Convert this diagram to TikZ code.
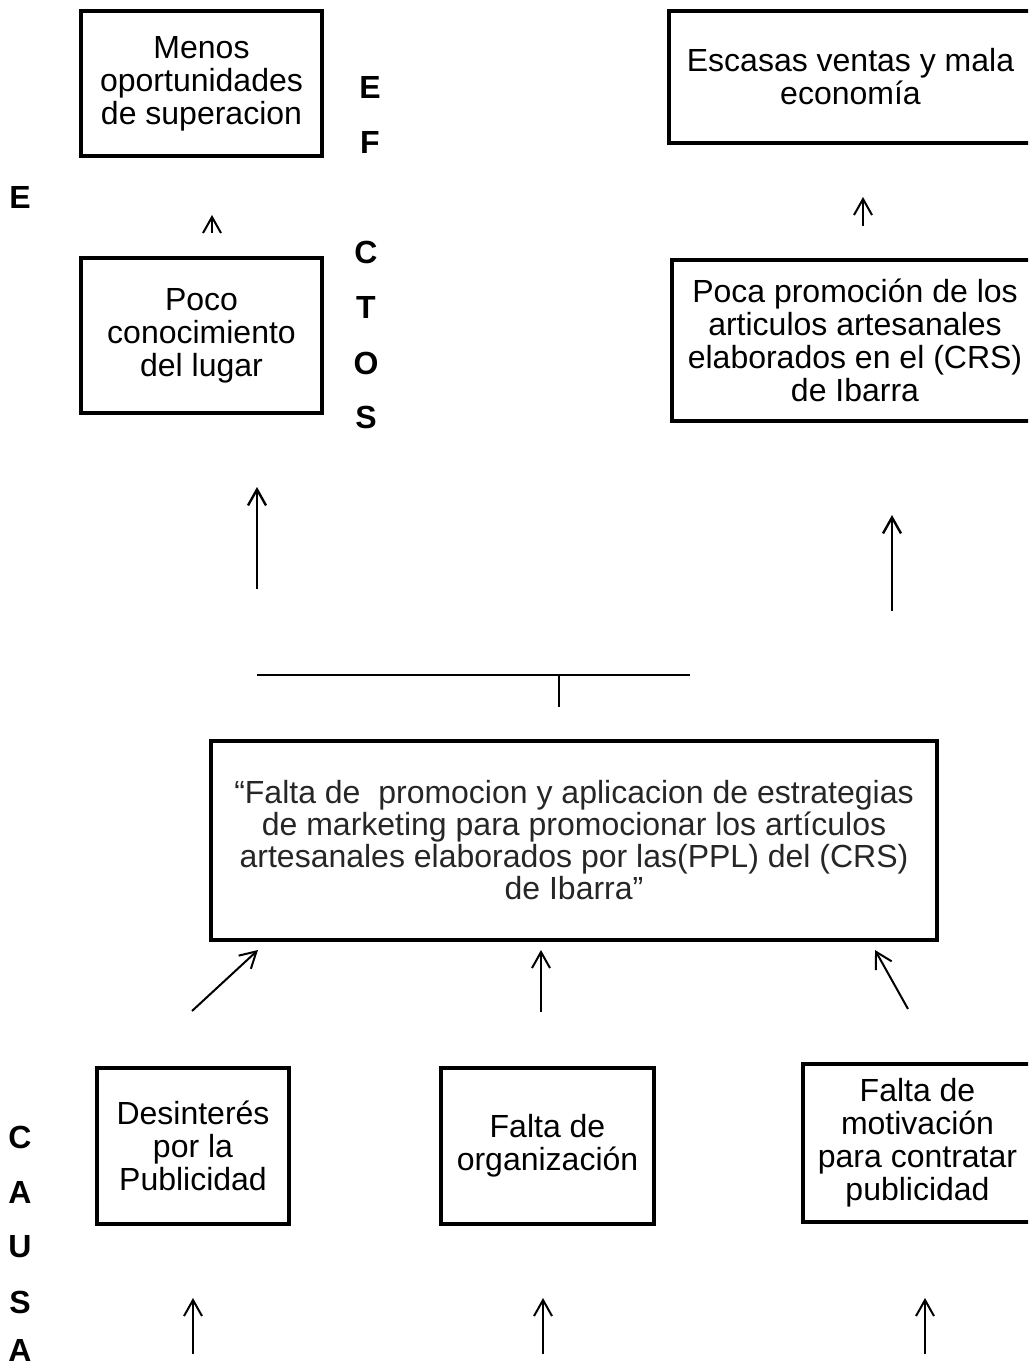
\documentclass[tikz,border=0pt]{standalone}
\usepackage{fontspec}
\setmainfont{Liberation Sans}
\usetikzlibrary{arrows.meta}
\tikzset{
  txt/.style={font=\fontsize{16}{16.5}\selectfont},
  box/.style={rectangle,draw=black,line width=2pt,align=center,inner sep=0pt,txt},
  arrow/.style={-{Straight Barb[length=8pt,width=9pt]},draw=black,line width=1pt},
  letter/.style={font=\fontsize{16}{16.5}\selectfont\bfseries,inner sep=0pt},
}

\begin{document}
\begin{tikzpicture}[x=0.5pt,y=-0.5pt]
\path[use as bounding box,clip] (0,0) rectangle (1028,1369);

% efectos
\node[box,minimum width=120.5pt,minimum height=72.5pt] (menos) at (201.5,83.5)
  {Menos\\oportunidades\\de superacion};
\node[box,minimum width=120.5pt,minimum height=77.5pt] (poco) at (201.5,335.5)
  {Poco\\conocimiento\\del lugar};
\node[box,minimum width=181.5pt,minimum height=66pt] (escasas) at (850.5,77)
  {Escasas ventas y mala\\economía};
\node[box,minimum width=183pt,minimum height=80.5pt] (poca) at (855,340.5)
  {Poca promoción de los\\articulos artesanales\\elaborados en el (CRS)\\de Ibarra};

\foreach \l/\x/\y [count=\i] in {E/370/87,F/370/142,E/20/197,C/366/252,T/366/307,O/366/363,S/366/417}
  \node[letter] (efecto\i) at (\x,\y) {\l};

\coordinate (menosA) at (212,233);
\coordinate (menosB) at (212,215);
\coordinate (escasasA) at (863,226);
\coordinate (escasasB) at (863,197);
\draw[arrow] (menosA) -- (menosB);
\draw[arrow] (escasasA) -- (escasasB);

\coordinate (pocoA) at (257,589);
\coordinate (pocoB) at (257,487);
\coordinate (pocaA) at (892,611);
\coordinate (pocaB) at (892,515);
\draw[arrow,line width=1.2pt] (pocoA) -- (pocoB);
\draw[arrow,line width=1.2pt] (pocaA) -- (pocaB);

\coordinate (barL) at (257,675);
\coordinate (barR) at (690,675);
\coordinate (barT) at (559,675);
\coordinate (barB) at (559,707);
\draw[line width=1.2pt] (barL) -- (barR);
\draw[line width=0.8pt] (barT) -- (barB);

% problema central
\node[box,minimum width=363pt,minimum height=99.5pt,font=\fontsize{16}{16}\selectfont,text=black!85] (problema) at (574,840.5)
  {“Falta de~ promocion y aplicacion de estrategias\\de marketing para promocionar los artículos\\artesanales elaborados por las(PPL) del (CRS)\\de Ibarra”};

\coordinate (izqA) at (192,1011);
\coordinate (izqB) at (258,950);
\coordinate (cenA) at (541,1012);
\coordinate (cenB) at (541,950);
\coordinate (derA) at (908,1009);
\coordinate (derB) at (875,950);
\draw[arrow] (izqA) -- (izqB);
\draw[arrow] (cenA) -- (cenB);
\draw[arrow] (derA) -- (derB);

% causas
\node[box,minimum width=96pt,minimum height=78pt] (desinteres) at (193,1146)
  {Desinterés\\por la\\Publicidad};
\node[box,minimum width=106.5pt,minimum height=78pt] (organizacion) at (547.5,1146)
  {Falta de\\organización};
\node[box,minimum width=114.5pt,minimum height=79pt] (motivacion) at (917.5,1143)
  {Falta de\\motivación\\para contratar\\publicidad};

\foreach \l/\y [count=\i] in {C/1137,A/1192,U/1247,S/1302,A/1350}
  \node[letter] (causa\i) at (20,\y) {\l};

\foreach \x [count=\i] in {193,543,925}{
  \coordinate (raizA\i) at (\x,1354);
  \coordinate (raizB\i) at (\x,1298);
  \draw[arrow] (raizA\i) -- (raizB\i);
}

\end{tikzpicture}
\end{document}
